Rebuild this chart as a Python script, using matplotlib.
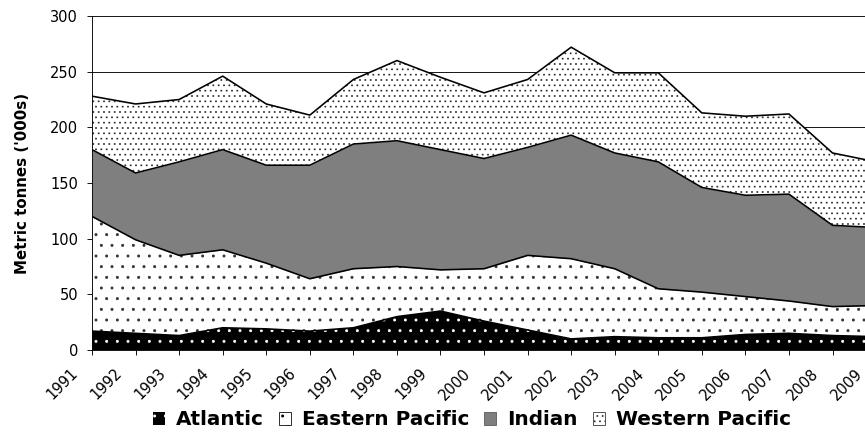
import numpy as np
import matplotlib
matplotlib.use("Agg")
import matplotlib.pyplot as plt
from matplotlib.patches import Patch
from matplotlib.transforms import ScaledTranslation

# annual catch by ocean, thousand tonnes
years = list(range(1991, 2010))
atlantic = [17, 15, 13, 20, 19, 17, 20, 30, 35, 26, 18, 10, 12, 11, 11, 14, 15, 13, 12]
eastern_pacific = [103, 84, 72, 70, 59, 47, 53, 45, 37, 47, 67, 72, 61, 44, 41, 34, 29, 26, 28]
indian = [60, 60, 84, 90, 88, 102, 112, 113, 108, 99, 97, 111, 104, 114, 94, 91, 96, 73, 70]
western_pacific = [48, 62, 56, 66, 55, 45, 58, 72, 65, 59, 61, 79, 72, 80, 67, 71, 72, 65, 59]
series_names = ["Atlantic", "Eastern Pacific", "Indian", "Western Pacific"]

# (face colour, hatch, dot colour) per ocean; hatch spacing follows the dpi
DPI = 64
styles = [
    ("black", ".", "white"),
    ("white", ".", "#303030"),
    ("#7f7f7f", None, "#7f7f7f"),
    ("white", "..", "#303030"),
]

plt.rcParams["hatch.linewidth"] = 0.9

fig = plt.figure(figsize=(865 / DPI, 432 / DPI), dpi=DPI)
ax = fig.add_axes([0.1064, 0.1898, 0.9064, 0.7731])

stack = np.vstack([atlantic, eastern_pacific, indian, western_pacific])
tops = np.cumsum(stack, axis=0)
bottoms = tops - stack
for lower, upper, (face, hatch, dots) in zip(bottoms, tops, styles):
    ax.fill_between(years, lower, upper, facecolor=face, hatch=hatch,
                    edgecolor=dots, linewidth=0, zorder=2)
    ax.plot(years, upper, color="black", lw=1.8, zorder=3)

ax.set_xlim(1991, 2009)
ax.set_ylim(0, 300)
ax.set_yticks(range(0, 301, 50))
ax.set_xticks(years, labels=[str(y) for y in years], rotation=45, ha="right", va="top")
ax.yaxis.grid(True, color="black", lw=1.0)
ax.set_axisbelow(True)

for side in ("top", "right"):
    ax.spines[side].set_visible(False)
for side in ("left", "bottom"):
    ax.spines[side].set_color("black")
    ax.spines[side].set_linewidth(1.0)

ax.tick_params(axis="both", direction="out", length=5.6, width=1.0,
               labelsize=16.5, colors="black")
ax.tick_params(axis="y", pad=10)
ax.tick_params(axis="x", pad=12)

# nudge the slanted year labels left so they end just before their tick
shift = ScaledTranslation(-11 / DPI, 0, fig.dpi_scale_trans)
for lab in ax.get_xticklabels():
    lab.set_transform(lab.get_transform() + shift)

ax.set_ylabel("Metric tonnes ('000s)", fontsize=16.9, fontweight="bold")
ax.yaxis.set_label_coords(-0.0797, 0.5)

handles = [
    Patch(facecolor="black", edgecolor="white", hatch=".", lw=0),
    Patch(facecolor="white", edgecolor="black", hatch=".", lw=0.9),
    Patch(facecolor="#7f7f7f", edgecolor="#555555", lw=0.9),
    Patch(facecolor="white", edgecolor="#303030", hatch="..", lw=0.9),
]
fig.legend(handles, series_names, loc="center", bbox_to_anchor=(0.5457, 0.028),
           ncol=4, frameon=False, prop=dict(weight="bold", size=22.5),
           handlelength=0.6, handleheight=0.6, handletextpad=0.55,
           columnspacing=0.75, borderaxespad=0, borderpad=0)

fig.savefig("out.png", dpi=DPI)
